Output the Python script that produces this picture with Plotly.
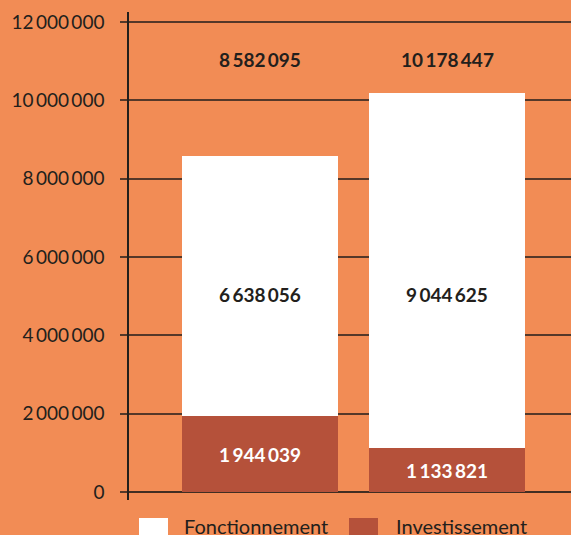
import plotly.graph_objects as go

categories = ["Budget A", "Budget B"]
fonctionnement = [6638056, 9044625]
investissement = [1944039, 1133821]
totals = [8582095, 10178447]
tick_vals = [0, 2000000, 4000000, 6000000, 8000000, 10000000, 12000000]

SP = "\u2009"

def fmt(v):
    return f"{v:,}".replace(",", SP)

BG = "#F28C55"
RED = "#B5513A"
DARK = "#231f1c"
FONT = "Lato"

fig = go.Figure()
fig.add_trace(go.Bar(
    x=categories, y=investissement, name="Investissement",
    marker=dict(color=RED, line=dict(width=0)), width=0.834,
    text=[fmt(v) for v in investissement], texttemplate="%{text}",
    textposition="inside", insidetextanchor="middle",
    textfont=dict(family=FONT, size=19, color="white", weight="bold"),
    showlegend=False, hoverinfo="skip",
))
fig.add_trace(go.Bar(
    x=categories, y=fonctionnement, name="Fonctionnement",
    marker=dict(color="white", line=dict(width=0)), width=0.834,
    showlegend=False, hoverinfo="skip",
))

for c, f in zip(categories, fonctionnement):
    fig.add_annotation(x=c, y=5030000, text=fmt(f), showarrow=False,
                       font=dict(family=FONT, size=19, color=DARK, weight="bold"),
                       yanchor="middle")
for c, t in zip(categories, totals):
    fig.add_annotation(x=c, y=11030000, text=fmt(t), showarrow=False,
                       font=dict(family=FONT, size=19, color=DARK, weight="bold"),
                       yanchor="middle")

# legend
legend_items = [("Fonctionnement", "white", 139, 182), ("Investissement", RED, 349, 394)]
W, H = 571, 535
for label, color, sx, tx in legend_items:
    fig.add_shape(type="rect", xref="paper", yref="paper",
                  x0=(sx - 129) / (W - 129), x1=(sx + 29 - 129) / (W - 129),
                  y0=-(518 - 500) / 488, y1=-(540 - 500) / 488,
                  fillcolor=color, line=dict(width=0))
    fig.add_annotation(xref="paper", yref="paper",
                       x=(tx - 129) / (W - 129), y=-(526 - 500) / 488,
                       text=label, showarrow=False, xanchor="left", yanchor="middle",
                       font=dict(family=FONT, size=20, color=DARK))

fig.update_layout(
    width=W, height=H,
    margin=dict(l=129, r=0, t=12, b=35),
    paper_bgcolor=BG, plot_bgcolor=BG,
    barmode="stack", bargap=0,
    xaxis=dict(range=[-0.7005, 1.663], showticklabels=False, showgrid=False,
               zeroline=False, showline=False, ticks=""),
    yaxis=dict(range=[-204000, 12255000], tickvals=tick_vals,
               ticktext=[fmt(v) for v in tick_vals],
               showgrid=True, gridcolor="rgba(45,35,30,0.8)", gridwidth=1.5,
               zeroline=True, zerolinecolor="rgba(45,35,30,0.9)", zerolinewidth=2,
               showline=True, linecolor=DARK, linewidth=1.5,
               ticks="outside", ticklen=7, tickcolor="rgba(45,35,30,0.8)", tickwidth=1.5,
               ticklabelstandoff=12,
               tickfont=dict(family=FONT, size=19, color=DARK)),
)

fig.write_html("out.html", config={"displayModeBar": False},
               post_script="document.body.style.margin='0';document.body.style.overflow='hidden';")
